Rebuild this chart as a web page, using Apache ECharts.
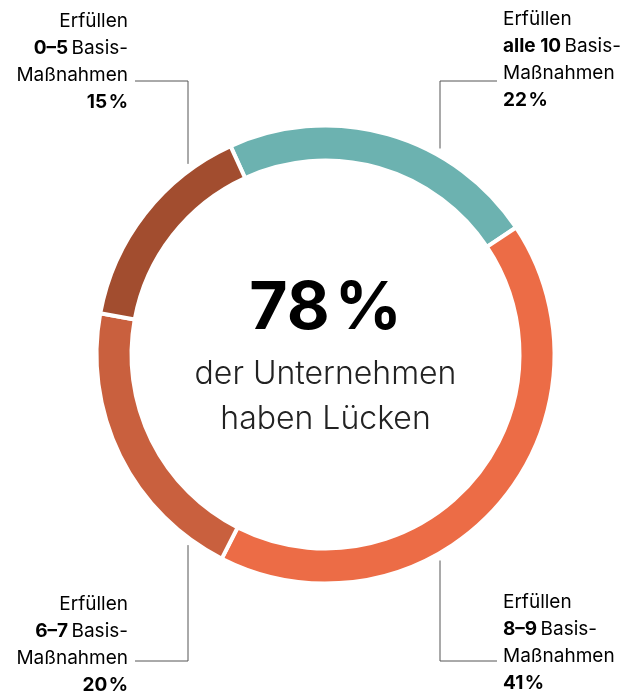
<!DOCTYPE html>
<html>
<head>
<meta charset="utf-8">
<script src="https://cdn.jsdelivr.net/npm/echarts@6/dist/echarts.min.js"></script>
<style>
  html, body { margin: 0; padding: 0; background: #fff; }
  #chart { width: 640px; height: 693px; }
</style>
</head>
<body>
<div id="chart"></div>
<script>
// Anteile der Unternehmen nach Anzahl erfüllter Basis-Maßnahmen
const groups = ['alle 10', '8–9', '6–7', '0–5']
const shares = [22, 41, 20, 15]
const colors = ['#6cb2b0', '#ec6c46', '#c9603e', '#a24d2f']
const headline = '78\u200A%'
const subline = ['der Unternehmen', 'haben Lücken']

const FONT = 'Inter, Roboto, "Noto Sans", sans-serif'
const cx = 325.5, cy = 354.5, rOuter = 227

// where the labels sit: x of leader line, text x, text top, alignment
const labelPos = [
  { lx: 440, tx: 503, ty: 6, align: 'left', top: true },
  { lx: 440, tx: 503, ty: 589, align: 'left', top: false },
  { lx: 188, tx: 128, ty: 591, align: 'right', top: false },
  { lx: 188, tx: 128, ty: 8, align: 'right', top: true }
]

const chart = echarts.init(document.getElementById('chart'))

const graphics = []
groups.forEach((g, i) => {
  const p = labelPos[i]
  const dx = p.lx - cx
  const ringY = Math.sqrt(rOuter * rOuter - dx * dx)
  const yEnd = p.top ? cy - ringY - 10 : cy + ringY + 10
  const yBend = p.top ? 81 : 661
  const xEnd = p.align === 'left' ? 497 : 135
  graphics.push({
    type: 'polyline',
    silent: true,
    shape: { points: [[xEnd, yBend], [p.lx, yBend], [p.lx, yEnd]] },
    style: { stroke: '#555', lineWidth: 1, fill: null }
  })
  graphics.push({
    type: 'text',
    x: p.tx,
    y: p.ty,
    style: {
      text: '{r|Erfüllen}\n{b|' + g + '} {r|Basis-}\n{r|Maßnahmen}\n{b|' + shares[i] + '\u200A%}',
      align: p.align,
      verticalAlign: 'top',
      rich: {
        r: { fontFamily: FONT, fontSize: 19, fontWeight: 400, color: '#222', lineHeight: 27, align: p.align },
        b: { fontFamily: FONT, fontSize: 19, fontWeight: 700, color: '#111', lineHeight: 27, align: p.align }
      }
    }
  })
})

graphics.push({
  type: 'text',
  x: cx,
  y: 309,
  style: {
    text: headline,
    fontFamily: FONT,
    fontSize: 66,
    fontWeight: 700,
    fill: '#000',
    align: 'center',
    verticalAlign: 'middle'
  }
})
subline.forEach((t, i) => {
  graphics.push({
    type: 'text',
    x: cx,
    y: 374 + i * 45,
    style: {
      text: t,
      fontFamily: FONT,
      fontSize: 32,
      fontWeight: 300,
      fill: '#222',
      align: 'center',
      verticalAlign: 'middle'
    }
  })
})

chart.setOption({
  animation: false,
  backgroundColor: '#fff',
  series: [
    {
      type: 'pie',
      center: [cx, cy],
      radius: [194, 229],
      startAngle: 114.5,
      clockwise: true,
      silent: true,
      label: { show: false },
      labelLine: { show: false },
      itemStyle: { borderColor: '#fff', borderWidth: 4 },
      data: groups.map((g, i) => ({
        name: g,
        value: shares[i],
        itemStyle: { color: colors[i] }
      }))
    }
  ],
  graphic: graphics
})
</script>
</body>
</html>
